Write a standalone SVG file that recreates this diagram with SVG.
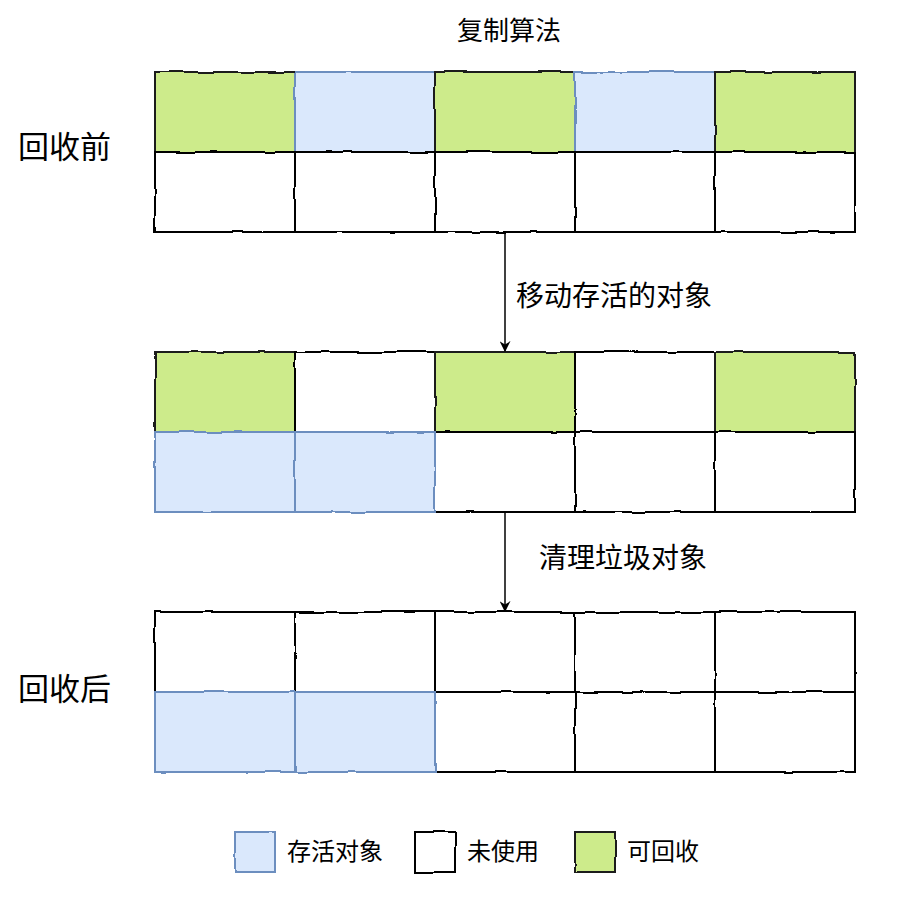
<svg xmlns="http://www.w3.org/2000/svg" width="914" height="916" viewBox="0 0 914 916">
<defs>
<style>
.g{fill:#cdeb8b;stroke:#1a1a1a;stroke-width:2}
.b{fill:#dae8fc;stroke:#6c8ebf;stroke-width:2}
.w{fill:#ffffff;stroke:#000000;stroke-width:2}
.t{font-family:"Noto Sans CJK SC","Noto Sans",sans-serif;fill:#000}
.c{fill:none;stroke:#000;stroke-width:1.5}
.sk{filter:url(#rough)}
</style>
<filter id="rough" x="-5%" y="-5%" width="110%" height="110%">
<feTurbulence type="fractalNoise" baseFrequency="0.035" numOctaves="2" seed="3" result="n"/>
<feDisplacementMap in="SourceGraphic" in2="n" scale="3" xChannelSelector="R" yChannelSelector="G"/>
</filter>
<marker id="ah" viewBox="0 0 10 10" refX="9" refY="5" markerWidth="11" markerHeight="11" markerUnits="userSpaceOnUse" orient="auto"><path d="M0,0 L10,5 L0,10 L3,5 Z" fill="#000"/></marker>
</defs>
<rect width="914" height="916" fill="#fff"/>
<text class="t" x="509" y="40" font-size="26" text-anchor="middle">复制算法</text>
<text class="t" x="18" y="158" font-size="31">回收前</text>
<text class="t" x="18" y="700" font-size="31">回收后</text>

<g id="before" class="sk">
<rect class="g" x="155" y="72" width="140" height="80"/>
<rect class="b" x="295" y="72" width="140" height="80"/>
<rect class="g" x="435" y="72" width="140" height="80"/>
<rect class="b" x="575" y="72" width="140" height="80"/>
<rect class="g" x="715" y="72" width="140" height="80"/>
<rect class="w" x="155" y="152" width="140" height="80"/>
<rect class="w" x="295" y="152" width="140" height="80"/>
<rect class="w" x="435" y="152" width="140" height="80"/>
<rect class="w" x="575" y="152" width="140" height="80"/>
<rect class="w" x="715" y="152" width="140" height="80"/>
</g>

<g id="middle" class="sk">
<rect class="g" x="155" y="352" width="140" height="80"/>
<rect class="w" x="295" y="352" width="140" height="80"/>
<rect class="g" x="435" y="352" width="140" height="80"/>
<rect class="w" x="575" y="352" width="140" height="80"/>
<rect class="g" x="715" y="352" width="140" height="80"/>
<rect class="w" x="435" y="432" width="140" height="80"/>
<rect class="w" x="575" y="432" width="140" height="80"/>
<rect class="w" x="715" y="432" width="140" height="80"/>
<rect class="b" x="155" y="432" width="140" height="80"/>
<rect class="b" x="295" y="432" width="140" height="80"/>
</g>

<g id="after" class="sk">
<rect class="w" x="155" y="612" width="140" height="80"/>
<rect class="w" x="295" y="612" width="140" height="80"/>
<rect class="w" x="435" y="612" width="140" height="80"/>
<rect class="w" x="575" y="612" width="140" height="80"/>
<rect class="w" x="715" y="612" width="140" height="80"/>
<rect class="w" x="435" y="692" width="140" height="80"/>
<rect class="w" x="575" y="692" width="140" height="80"/>
<rect class="w" x="715" y="692" width="140" height="80"/>
<rect class="b" x="155" y="692" width="140" height="80"/>
<rect class="b" x="295" y="692" width="140" height="80"/>
</g>

<g id="connectors">
<path class="c" d="M505,233 L505,351" marker-end="url(#ah)"/>
<path class="c" d="M505,513 L505,611" marker-end="url(#ah)"/>
</g>
<text class="t" x="516" y="306" font-size="28">移动存活的对象</text>
<text class="t" x="539" y="568" font-size="28">清理垃圾对象</text>

<g id="legend">
<g class="sk"><rect class="b" x="235" y="832" width="40" height="40"/></g>
<text class="t" x="287" y="860" font-size="24">存活对象</text>
<g class="sk"><rect class="w" x="415" y="832" width="40" height="40"/></g>
<text class="t" x="467" y="860" font-size="24">未使用</text>
<g class="sk"><rect class="g" x="575" y="832" width="40" height="40"/></g>
<text class="t" x="627" y="860" font-size="24">可回收</text>
</g>
</svg>
